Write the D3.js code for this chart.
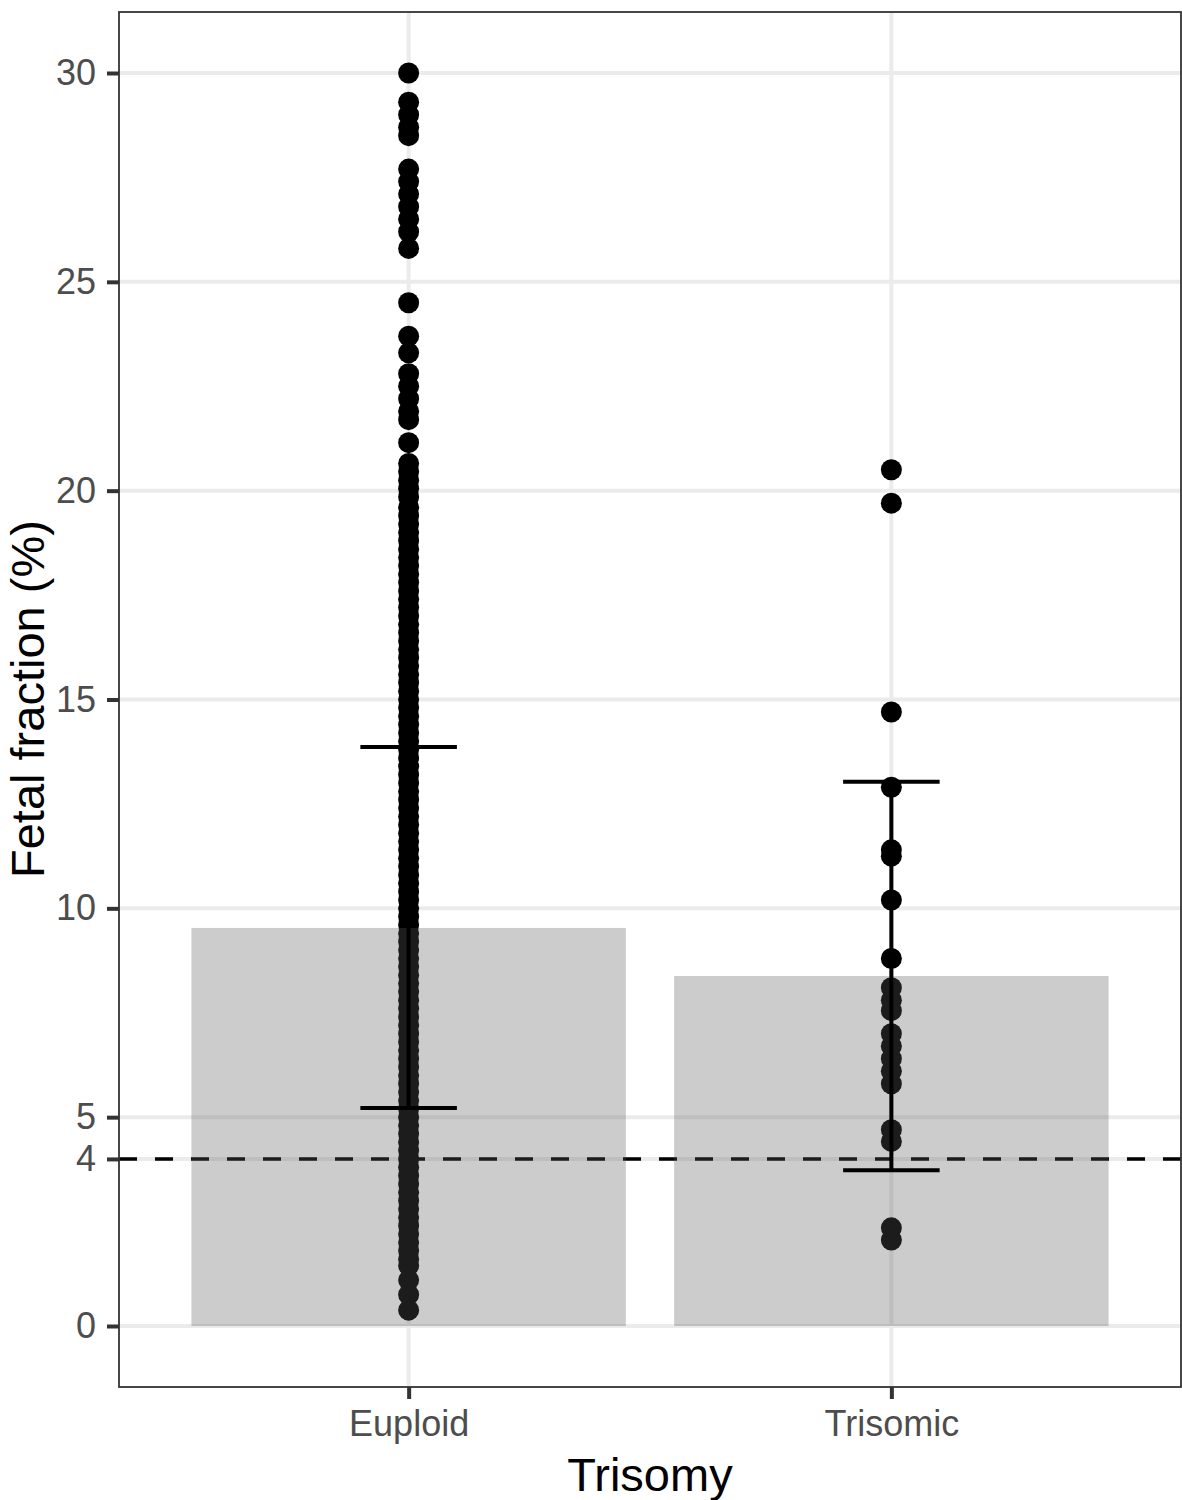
<!DOCTYPE html>
<html>
<head>
<meta charset="utf-8">
<script src="https://cdn.jsdelivr.net/npm/d3@7"></script>
<style>
  html, body { margin: 0; padding: 0; background: #fff; }
  svg { display: block; font-family: "Liberation Sans", Arial, sans-serif; }
</style>
</head>
<body>
<svg id="chart" width="1182" height="1500"></svg>
<script>
// ---- data ----
const categories = ["Euploid", "Trisomic"];
const euploidValues = [
  30.0, 29.3, 29.0, 28.7, 28.5, 27.7, 27.4, 27.1, 26.8, 26.5, 26.2, 25.8, 24.5,
  23.7, 23.3, 22.8, 22.5, 22.2, 21.9, 21.7, 21.15,
  20.65, 20.45, 20.25, 20.05, 19.85, 19.6, 19.4, 19.2, 19.0, 18.8, 18.6, 18.4, 18.2,
  18.0, 17.8, 17.6, 17.4, 17.2, 17.0, 16.8, 16.6, 16.4, 16.2, 16.0, 15.8, 15.6, 15.4,
  15.2, 15.0, 14.8, 14.6, 14.4, 14.2, 14.0, 13.8, 13.6, 13.4, 13.2, 13.0, 12.8, 12.6,
  12.4, 12.2, 12.0, 11.8, 11.6, 11.4, 11.2, 11.0, 10.8, 10.6, 10.4, 10.2, 10.0, 9.8,
  9.6, 9.4, 9.2, 9.0, 8.8, 8.6, 8.4, 8.2, 8.0, 7.8, 7.6, 7.4, 7.2, 7.0, 6.8, 6.6, 6.4,
  6.2, 6.0, 5.8, 5.6, 5.4, 5.2, 5.0, 4.8, 4.6, 4.4, 4.2, 4.0, 3.8, 3.6, 3.4, 3.2, 3.0,
  2.8, 2.6, 2.4, 2.2, 2.0, 1.8, 1.6, 1.45, 1.1, 0.75, 0.38
];
const trisomicValues = [
  20.5, 19.7, 14.7, 12.9, 11.4, 11.25, 10.2, 8.8, 8.1, 7.8, 7.55, 7.0, 6.7, 6.4,
  6.1, 5.8, 4.7, 4.42, 2.35, 2.06
];
const meanValues = [9.53, 8.38];
const lowerValues = [5.22, 3.73];
const upperValues = [13.86, 13.03];
const thresholdValue = 4;
const yTickValues = [0, 4, 5, 10, 15, 20, 25, 30];
const xTitle = "Trisomy";
const yTitle = "Fetal fraction (%)";

// ---- layout ----
const panel = { left: 119, right: 1181, top: 12, bottom: 1387 };
const svg = d3.select("#chart");

const x = d3.scalePoint().domain(categories).range([panel.left, panel.right]).padding(0.6);
const step = x.step();
const y = d3.scaleLinear().domain([0, 30]).range([1326, 73]);

// background
svg.append("rect").attr("x", panel.left).attr("y", panel.top)
  .attr("width", panel.right - panel.left).attr("height", panel.bottom - panel.top)
  .attr("fill", "#fff");

// gridlines
const grid = svg.append("g");
grid.selectAll("line.h").data(yTickValues).join("line")
  .attr("x1", panel.left).attr("x2", panel.right)
  .attr("y1", d => y(d)).attr("y2", d => y(d))
  .attr("stroke", "#EBEBEB").attr("stroke-width", 4);
grid.selectAll("line.v").data(categories).join("line")
  .attr("y1", panel.top).attr("y2", panel.bottom)
  .attr("x1", d => x(d)).attr("x2", d => x(d))
  .attr("stroke", "#EBEBEB").attr("stroke-width", 4);

// points
const pts = [];
euploidValues.forEach(v => pts.push({ cat: "Euploid", v }));
trisomicValues.forEach(v => pts.push({ cat: "Trisomic", v }));
svg.append("g").selectAll("circle").data(pts).join("circle")
  .attr("cx", d => x(d.cat)).attr("cy", d => y(d.v)).attr("r", 10.5)
  .attr("fill", "#000");

// threshold dashed line
svg.append("line")
  .attr("x1", panel.left).attr("x2", panel.right)
  .attr("y1", y(thresholdValue)).attr("y2", y(thresholdValue))
  .attr("stroke", "#000").attr("stroke-width", 3.5)
  .attr("stroke-dasharray", "18,18");

// bars (semi-transparent, drawn over points)
svg.append("g").selectAll("rect").data(categories).join("rect")
  .attr("x", d => x(d) - step * 0.45)
  .attr("width", step * 0.9)
  .attr("y", (d, i) => y(meanValues[i]))
  .attr("height", (d, i) => y(0) - y(meanValues[i]))
  .attr("fill", "#5a5a5a").attr("fill-opacity", 0.31);

// error bars
const eb = svg.append("g").attr("stroke", "#000").attr("stroke-width", 4);
categories.forEach((c, i) => {
  eb.append("line").attr("x1", x(c)).attr("x2", x(c))
    .attr("y1", y(upperValues[i])).attr("y2", y(lowerValues[i]));
  [upperValues[i], lowerValues[i]].forEach(v => {
    eb.append("line")
      .attr("x1", x(c) - step * 0.1).attr("x2", x(c) + step * 0.1)
      .attr("y1", y(v)).attr("y2", y(v));
  });
});

// panel border
svg.append("rect").attr("x", panel.left).attr("y", panel.top)
  .attr("width", panel.right - panel.left).attr("height", panel.bottom - panel.top)
  .attr("fill", "none").attr("stroke", "#333").attr("stroke-width", 1.8);

// axes
const yAxis = svg.append("g").attr("transform", `translate(${panel.left},0)`)
  .call(d3.axisLeft(y).tickValues(yTickValues).tickSize(12).tickPadding(11).tickFormat(d3.format("d")));
const xAxis = svg.append("g").attr("transform", `translate(0,${panel.bottom})`)
  .call(d3.axisBottom(x).tickSize(12).tickPadding(11));
[yAxis, xAxis].forEach(a => {
  a.select(".domain").remove();
  a.selectAll(".tick line").attr("stroke", "#333").attr("stroke-width", 4);
  a.selectAll(".tick text").attr("fill", "#4D4D4D")
    .style("font-size", "36px").style("font-family", "'Liberation Sans', Arial, sans-serif");
});

// titles
svg.append("text").attr("x", (panel.left + panel.right) / 2).attr("y", 1491)
  .attr("text-anchor", "middle").style("font-size", "47px").attr("fill", "#000")
  .text(xTitle);
svg.append("text")
  .attr("transform", `translate(44,878) rotate(-90)`)
  .attr("text-anchor", "start").style("font-size", "47px").attr("fill", "#000")
  .text(yTitle);
</script>
</body>
</html>
